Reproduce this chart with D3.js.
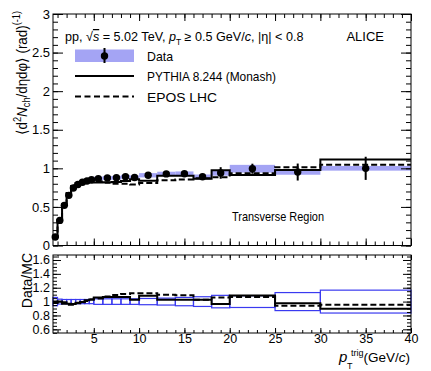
<!DOCTYPE html>
<html>
<head>
<meta charset="utf-8">
<script src="https://cdn.jsdelivr.net/npm/d3@7"></script>
<style>
  body { margin: 0; background: #fff; }
  text { font-family: "Liberation Sans", Arial, sans-serif; fill: #000; }
</style>
</head>
<body>
<svg id="chart"></svg>
<script>
// bins in pT trig (GeV/c)
const binEdges = [0.5, 1, 1.5, 2, 2.5, 3, 3.5, 4, 4.5, 5, 6, 7, 8, 9, 10, 12, 14, 16, 18, 20, 25, 30, 40];
const dataVals = [0.11, 0.325, 0.52, 0.65, 0.745, 0.79, 0.82, 0.835, 0.853, 0.866, 0.875, 0.877, 0.89, 0.882, 0.91, 0.928, 0.93, 0.89, 0.94, 0.995, 0.952, 1.0];
const dataStat = [0.004, 0.004, 0.004, 0.004, 0.004, 0.004, 0.005, 0.005, 0.005, 0.005, 0.006, 0.007, 0.008, 0.01, 0.01, 0.015, 0.02, 0.03, 0.075, 0.065, 0.11, 0.15];
const dataSys = [0.01, 0.012, 0.015, 0.018, 0.02, 0.02, 0.02, 0.022, 0.022, 0.025, 0.025, 0.025, 0.025, 0.025, 0.028, 0.028, 0.03, 0.03, 0.035, 0.05, 0.035, 0.03];
const pythiaVals = [0.11, 0.33, 0.525, 0.67, 0.77, 0.8, 0.81, 0.815, 0.815, 0.817, 0.82, 0.822, 0.835, 0.86, 0.84, 0.905, 0.905, 0.865, 0.975, 0.915, 0.98, 1.115];
const eposVals = [0.112, 0.33, 0.535, 0.68, 0.78, 0.81, 0.825, 0.825, 0.825, 0.828, 0.812, 0.8, 0.8, 0.79, 0.81, 0.845, 0.855, 0.87, 0.885, 0.935, 1.015, 1.045];
const ratioPythia = [0.98, 1.0, 0.99, 0.97, 0.965, 0.985, 0.995, 1.02, 1.03, 1.06, 1.065, 1.065, 1.065, 1.025, 1.085, 1.025, 1.025, 1.025, 0.965, 1.087, 0.975, 0.895];
const ratioEpos = [1.0, 0.99, 0.97, 0.955, 0.955, 0.975, 0.99, 1.01, 1.03, 1.045, 1.075, 1.095, 1.11, 1.12, 1.12, 1.1, 1.09, 1.025, 1.06, 1.065, 0.94, 0.955];
const ratioErr = [0.06, 0.035, 0.03, 0.03, 0.03, 0.03, 0.03, 0.03, 0.03, 0.04, 0.04, 0.04, 0.04, 0.04, 0.045, 0.05, 0.06, 0.07, 0.09, 0.085, 0.13, 0.165];

const xTicks = [5, 10, 15, 20, 25, 30, 35, 40];
const xMinor = d3.range(1, 41, 1);
const yTicksTop = [0, 0.5, 1, 1.5, 2, 2.5, 3];
const yMinorTop = d3.range(0, 3.01, 0.1);
const yTicksRatio = [0.6, 0.8, 1, 1.2, 1.4, 1.6];
const yMinorRatio = d3.range(0.55, 1.68, 0.05);
const legText = ["Data", "PYTHIA 8.244 (Monash)", "EPOS LHC"];

const width = 431, height = 371;
const svg = d3.select("#chart").attr("width", width).attr("height", height);

const bandColor = "#a4a4f4";
const boxColor = "#3a3af0";

const x = d3.scaleLinear().domain([0.5, 40]).range([53, 411]);
const yTop = d3.scaleLinear().domain([0, 3]).range([245.5, 14]);
const yRat = d3.scaleLinear().domain([0.547, 1.672]).range([333, 255]);

const bins = dataVals.map((v, i) => ({
    lo: binEdges[i], hi: binEdges[i + 1], mid: (binEdges[i] + binEdges[i + 1]) / 2,
    v: v, stat: dataStat[i], sys: dataSys[i],
    py: pythiaVals[i], ep: eposVals[i],
    rpy: ratioPythia[i], rep: ratioEpos[i], rerr: ratioErr[i]
}));

function stepLine(g, yScale, key, dashed) {
    const pts = bins.map(b => [b.lo, b[key]]);
    pts.push([bins[bins.length - 1].hi, bins[bins.length - 1][key]]);
    const line = d3.line()
        .x(d => x(d[0]))
        .y(d => yScale(d[1]))
        .curve(d3.curveStepAfter);
    g.append("path")
        .attr("d", line(pts))
        .attr("fill", "none")
        .attr("stroke", "#000")
        .attr("stroke-width", 2)
        .attr("stroke-dasharray", dashed ? "6,3" : null);
}

function ticks(g, axis, pos, values, len, labels, fmt) {
    const a = axis.tickValues(values).tickSize(-len).tickPadding(labels ? 3 : 0)
        .tickFormat(labels ? fmt : "");
    const t = g.append("g").attr("transform", pos).call(a);
    t.select(".domain").remove();
    t.selectAll("line").attr("stroke", "#000").attr("stroke-width", 1);
    t.selectAll("text").style("font-family", "Liberation Sans, Arial, sans-serif");
    return t;
}

// ---------- top panel ----------
const topG = svg.append("g");
const yr = yTop.range();

topG.selectAll("rect.sys")
    .data(bins)
    .enter()
    .append("rect")
    .attr("x", d => x(d.lo))
    .attr("width", d => x(d.hi) - x(d.lo))
    .attr("y", d => yTop(d.v + d.sys))
    .attr("height", d => yTop(d.v - d.sys) - yTop(d.v + d.sys))
    .attr("fill", bandColor);

stepLine(topG, yTop, "py", false);
stepLine(topG, yTop, "ep", true);

topG.selectAll("line.stat")
    .data(bins)
    .enter()
    .append("line")
    .attr("x1", d => x(d.mid)).attr("x2", d => x(d.mid))
    .attr("y1", d => yTop(d.v + d.stat))
    .attr("y2", d => yTop(d.v - d.stat))
    .attr("stroke", "#000").attr("stroke-width", 2);

topG.selectAll("circle")
    .data(bins)
    .enter()
    .append("circle")
    .attr("cx", d => x(d.mid))
    .attr("cy", d => yTop(d.v))
    .attr("r", 3.7)
    .attr("fill", "#000");

// frame + ticks
topG.append("rect")
    .attr("x", x(0.5)).attr("y", yr[1])
    .attr("width", x(40) - x(0.5)).attr("height", yr[0] - yr[1])
    .attr("fill", "none").attr("stroke", "#000").attr("stroke-width", 1);

ticks(topG, d3.axisLeft(yTop), `translate(${x(0.5)},0)`, yTicksTop, 10, true, d3.format(""))
    .selectAll("text").attr("font-size", 13);
ticks(topG, d3.axisLeft(yTop), `translate(${x(0.5)},0)`, yMinorTop, 5, false);
ticks(topG, d3.axisRight(yTop), `translate(${x(40)},0)`, yTicksTop, 10, false);
ticks(topG, d3.axisRight(yTop), `translate(${x(40)},0)`, yMinorTop, 5, false);
ticks(topG, d3.axisBottom(x), `translate(0,${yr[0]})`, xTicks, 7, false);
ticks(topG, d3.axisBottom(x), `translate(0,${yr[0]})`, xMinor, 4, false);
ticks(topG, d3.axisTop(x), `translate(0,${yr[1]})`, xTicks, 7, false);
ticks(topG, d3.axisTop(x), `translate(0,${yr[1]})`, xMinor, 4, false);

// header text
const hdr = topG.append("text").attr("x", 65).attr("y", 41).attr("font-size", 12.6);
hdr.append("tspan").text("pp, \u221A");
hdr.append("tspan").attr("font-style", "italic").style("text-decoration", "overline").text("s");
hdr.append("tspan").text(" = 5.02 TeV, ");
hdr.append("tspan").attr("font-style", "italic").text("p");
hdr.append("tspan").attr("font-size", 8.5).attr("dy", 4).text("T");
hdr.append("tspan").attr("dy", -4).text(" \u2265 0.5 GeV/");
hdr.append("tspan").attr("font-style", "italic").text("c");
hdr.append("tspan").text(", |\u03B7| < 0.8");

topG.append("text").attr("x", 384).attr("y", 41).attr("font-size", 13)
    .attr("text-anchor", "end").text("ALICE");

// legend
const leg = topG.append("g");
leg.append("rect").attr("x", 75).attr("y", 49.5).attr("width", 59).attr("height", 12.5)
    .attr("fill", bandColor);
leg.append("line").attr("x1", 104.5).attr("x2", 104.5).attr("y1", 48).attr("y2", 63)
    .attr("stroke", "#000").attr("stroke-width", 2);
leg.append("circle").attr("cx", 104.5).attr("cy", 56).attr("r", 3.7).attr("fill", "#000");
leg.append("line").attr("x1", 75).attr("x2", 134).attr("y1", 76).attr("y2", 76)
    .attr("stroke", "#000").attr("stroke-width", 2);
leg.append("line").attr("x1", 75).attr("x2", 134).attr("y1", 96.5).attr("y2", 96.5)
    .attr("stroke", "#000").attr("stroke-width", 2).attr("stroke-dasharray", "6,3.5");
const legWidths = [26, 129, 70];
leg.selectAll("text.leg")
    .data(legText)
    .enter()
    .append("text")
    .attr("x", 147)
    .attr("y", (d, i) => 61 + i * 20.3)
    .attr("font-size", 13.5)
    .attr("textLength", (d, i) => legWidths[i])
    .attr("lengthAdjust", "spacingAndGlyphs")
    .text(d => d);

topG.append("text").attr("x", 232).attr("y", 221).attr("font-size", 13.5)
    .attr("textLength", 92).attr("lengthAdjust", "spacingAndGlyphs")
    .text("Transverse Region");

// y title
const yt = topG.append("text")
    .attr("transform", "translate(27,11) rotate(-90)")
    .attr("text-anchor", "end")
    .attr("font-size", 14.5)
    .attr("textLength", 124).attr("lengthAdjust", "spacingAndGlyphs");
yt.append("tspan").text("\u27E8d");
yt.append("tspan").attr("font-size", 10).attr("dy", -6).text("2");
yt.append("tspan").attr("dy", 6).attr("font-style", "italic").text("N");
yt.append("tspan").attr("font-size", 10).attr("dy", 3).text("ch");
yt.append("tspan").attr("dy", -3).text("/d\u03B7d\u03C6\u27E9 (rad)");
yt.append("tspan").attr("font-size", 10).attr("dy", -7).text("(-1)");

// ---------- ratio panel ----------
const rat = svg.append("g");
const rr = yRat.range();

rat.selectAll("rect.err")
    .data(bins)
    .enter()
    .append("rect")
    .attr("x", d => x(d.lo))
    .attr("width", d => x(d.hi) - x(d.lo))
    .attr("y", d => yRat(1 + d.rerr))
    .attr("height", d => yRat(1 - d.rerr) - yRat(1 + d.rerr))
    .attr("fill", "none")
    .attr("stroke", boxColor)
    .attr("stroke-width", 1.2);

stepLine(rat, yRat, "rpy", false);
stepLine(rat, yRat, "rep", true);

rat.append("rect")
    .attr("x", x(0.5)).attr("y", rr[1])
    .attr("width", x(40) - x(0.5)).attr("height", rr[0] - rr[1])
    .attr("fill", "none").attr("stroke", "#000").attr("stroke-width", 1);

ticks(rat, d3.axisLeft(yRat), `translate(${x(0.5)},0)`, yTicksRatio, 8, true, d3.format(""))
    .selectAll("text").attr("font-size", 12.5);
ticks(rat, d3.axisLeft(yRat), `translate(${x(0.5)},0)`, yMinorRatio, 4, false);
ticks(rat, d3.axisRight(yRat), `translate(${x(40)},0)`, yTicksRatio, 8, false);
ticks(rat, d3.axisRight(yRat), `translate(${x(40)},0)`, yMinorRatio, 4, false);
ticks(rat, d3.axisBottom(x), `translate(0,${rr[0]})`, xTicks, 5, true, d3.format(""))
    .selectAll("text").attr("font-size", 12.5).attr("dy", 7);
ticks(rat, d3.axisBottom(x), `translate(0,${rr[0]})`, xMinor, 3, false);
ticks(rat, d3.axisTop(x), `translate(0,${rr[1]})`, xTicks, 5, false);
ticks(rat, d3.axisTop(x), `translate(0,${rr[1]})`, xMinor, 3, false);

rat.append("text")
    .attr("transform", "translate(32,253) rotate(-90)")
    .attr("text-anchor", "end")
    .attr("font-size", 14)
    .text("Data/MC");

// x title
const xTitle = rat.append("g");
xTitle.append("text").attr("x", 339).attr("y", 362).attr("font-size", 15)
    .attr("font-style", "italic").text("p");
xTitle.append("text").attr("x", 351).attr("y", 355.5).attr("font-size", 9).text("trig");
xTitle.append("text").attr("x", 347).attr("y", 369).attr("font-size", 9).text("T");
const gev = xTitle.append("text").attr("x", 410).attr("y", 362).attr("font-size", 13.5)
    .attr("text-anchor", "end");
gev.append("tspan").text("(GeV/");
gev.append("tspan").attr("font-style", "italic").text("c");
gev.append("tspan").text(")");
</script>
</body>
</html>
